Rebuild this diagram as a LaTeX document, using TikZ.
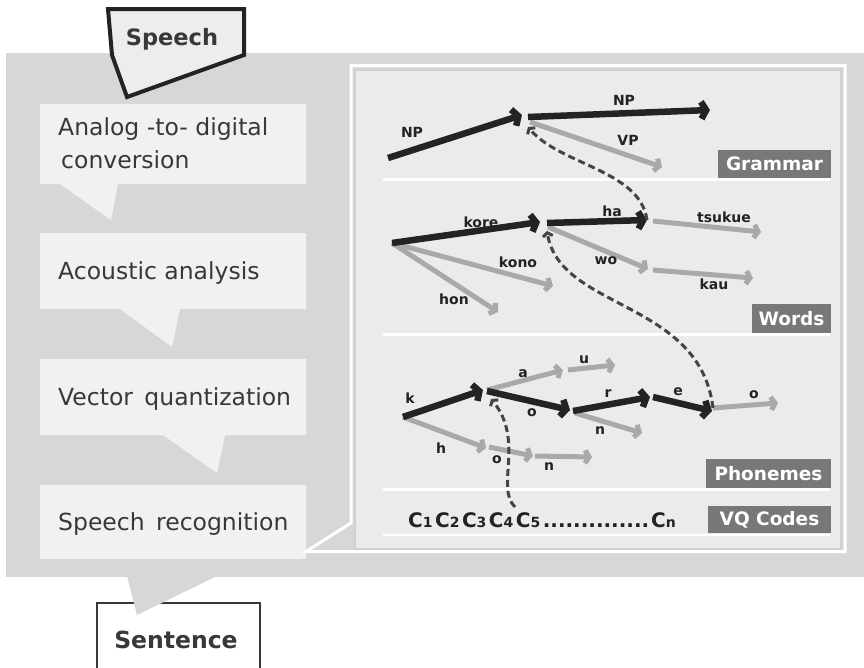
\documentclass[tikz,border=0pt]{standalone}
\usepackage{fontspec}
\setmainfont{DejaVu Sans}
\usetikzlibrary{arrows.meta}

\definecolor{bggray}{HTML}{D6D7D9}
\definecolor{boxfill}{HTML}{F0F1F3}
\definecolor{panelfill}{HTML}{EBEBEB}
\definecolor{panelline}{HTML}{D0D0D0}
\definecolor{levelgray}{HTML}{77787A}
\definecolor{arrowdark}{HTML}{232323}
\definecolor{arrowlight}{HTML}{A9A9A9}
\definecolor{linkgray}{HTML}{444444}
\definecolor{textdark}{HTML}{383838}
\definecolor{labeldark}{HTML}{222222}
\definecolor{speechfill}{HTML}{EDEDED}

% small code index digit, set on the baseline
\newcommand{\smalldigit}[1]{{\fontsize{14}{14}\selectfont #1}\kern2.5pt}

\tikzset{
  stepbox/.style={fill=boxfill, draw=none},
  steptext/.style={anchor=base west, inner sep=0, text=textdark,
    font=\fontsize{23.5}{28}\selectfont},
  darkarrow/.style={line width=6.5pt, draw=arrowdark,
    -{Straight Barb[length=5pt,width=17pt]}},
  lightarrow/.style={line width=5pt, draw=arrowlight,
    -{Straight Barb[length=4pt,width=13pt]}},
  linkarrow/.style={line width=3pt, draw=linkgray, dash pattern=on 7pt off 4pt,
    -{Straight Barb[length=3.5pt,width=10pt]}},
  arclabel/.style={font=\bfseries\fontsize{14}{16}\selectfont, text=labeldark, inner sep=0},
  levellabel/.style={fill=levelgray, text=white, inner sep=0,
    font=\bfseries\fontsize{18.5}{20}\selectfont},
  separator/.style={draw=white, line width=2.6pt},
}

\begin{document}
\begin{tikzpicture}[x=1pt, y=-1pt]
\useasboundingbox (0,0) rectangle (864,667);

% ---- background slab ----
\fill[bggray] (6,53) rectangle (864,577);

% ---- output box and its pointer ----
\draw[draw=textdark, line width=2.5pt, fill=white] (97,603) rectangle (260,680);
\node[anchor=base, inner sep=0, text=textdark, font=\bfseries\fontsize{23.5}{28}\selectfont]
  (sentence) at (176,648) {Sentence};
\fill[bggray] (127,576) -- (217,576) -- (137,615) -- cycle;

% ---- input tag ----
\draw[draw=arrowdark, line width=4pt, fill=speechfill]
  (108,9) -- (244,9) -- (244,55) -- (127,97) -- (112,55) -- cycle;
\node[anchor=base, inner sep=0, text=textdark, font=\bfseries\fontsize{22.5}{28}\selectfont]
  (speech) at (172,45) {Speech};

% ---- processing steps ----
\fill[stepbox] (40,104) -- (306,104) -- (306,184) -- (118,184) -- (111,220) -- (60,184) -- (40,184) -- cycle;
\node[steptext] (adc1) at (58,135) {Analog -to- digital};
\node[steptext] (adc2) at (61,168) {conversion};

\fill[stepbox] (40,233) -- (306,233) -- (306,309) -- (180,309) -- (172,347) -- (120,309) -- (40,309) -- cycle;
\node[steptext] (acoustic) at (58,279) {Acoustic analysis};

\fill[stepbox] (40,359) -- (306,359) -- (306,435) -- (225,435) -- (217,473) -- (163,435) -- (40,435) -- cycle;
\node[steptext] (vq) at (58,405) {Vector\, quantization};

\fill[stepbox] (40,485) rectangle (306,559);
\node[steptext] (recog) at (58,530) {Speech\, recognition};

% ---- recognition detail panel ----
\draw[draw=white, line width=3pt]
  (351,65.5) -- (845,65.5) -- (845,551.5) -- (306,551.5) -- (351,523) -- cycle;
\draw[draw=panelline, line width=2pt, fill=panelfill] (355,70) rectangle (841,549);

\draw[separator] (383,179.5) -- (830,179.5);
\draw[separator] (383,334.5) -- (830,334.5);
\draw[separator] (383,489.5) -- (830,489.5);
\draw[separator] (383,535) -- (830,535);

\node[levellabel, minimum width=113pt, minimum height=28pt] (grammar) at (774.5,164) {Grammar};
\node[levellabel, minimum width=79pt, minimum height=29pt] (words) at (791.5,318.5) {Words};
\node[levellabel, minimum width=125pt, minimum height=29pt] (phonemes) at (768.5,473.5) {Phonemes};
\node[levellabel, minimum width=123pt, minimum height=27pt] (vqcodes) at (769.5,519.5) {VQ Codes};

% ---- grammar level ----
\coordinate (g0) at (388,158);
\coordinate (g1) at (522,115);
\coordinate (g1a) at (528,117);
\coordinate (g2) at (710,110);
\coordinate (g1b) at (530,122);
\coordinate (g3) at (662,167);
\draw[lightarrow] (g1b) -- (g3);
\draw[darkarrow] (g0) -- (g1);
\draw[darkarrow] (g1a) -- (g2);
\node[arclabel] (lnp1) at (412,132) {NP};
\node[arclabel] (lnp2) at (624,100) {NP};
\node[arclabel] (lvp) at (628,140) {VP};

% ---- word level ----
\coordinate (w0) at (392,243);
\coordinate (w1) at (540,222);
\coordinate (w1a) at (547,223);
\coordinate (w2) at (647,220);
\coordinate (w2a) at (653,221);
\coordinate (w3) at (761,232);
\coordinate (w1b) at (548,227);
\coordinate (w4) at (648,269);
\coordinate (w4a) at (653,270);
\coordinate (w5) at (753,278);
\coordinate (w6) at (553,286);
\coordinate (w7) at (498,312);
\draw[lightarrow] (w0) -- (w6);
\draw[lightarrow] (w0) -- (w7);
\draw[lightarrow] (w2a) -- (w3);
\draw[lightarrow] (w1b) -- (w4);
\draw[lightarrow] (w4a) -- (w5);
\draw[darkarrow] (w0) -- (w1);
\draw[darkarrow] (w1a) -- (w2);
\node[arclabel] (lkore) at (481,222) {kore};
\node[arclabel] (lha) at (612,211) {ha};
\node[arclabel] (ltsukue) at (724,217) {tsukue};
\node[arclabel] (lkono) at (518,262) {kono};
\node[arclabel] (lwo) at (606,261) {wo};
\node[arclabel] (lkau) at (714,284) {kau};
\node[arclabel] (lhon) at (454,299) {hon};

% ---- phoneme level ----
\coordinate (p0) at (403,417);
\coordinate (p1) at (483,390);
\coordinate (p1a) at (487,390);
\coordinate (p2) at (563,370);
\coordinate (p2a) at (568,370);
\coordinate (p3) at (615,365);
\coordinate (p1b) at (487,391);
\coordinate (p4) at (570,410);
\coordinate (p4a) at (573,411);
\coordinate (p5) at (650,397);
\coordinate (p4b) at (575,413);
\coordinate (p6) at (642,433);
\coordinate (p5a) at (653,397);
\coordinate (p7) at (712,411);
\coordinate (p7a) at (713,408);
\coordinate (p8) at (778,403);
\coordinate (p9) at (486,448);
\coordinate (p9a) at (489,447);
\coordinate (p10) at (533,456);
\coordinate (p10a) at (535,456);
\coordinate (p11) at (592,457);
\draw[lightarrow] (p1a) -- (p2);
\draw[lightarrow] (p2a) -- (p3);
\draw[lightarrow] (p4b) -- (p6);
\draw[lightarrow] (p7a) -- (p8);
\draw[lightarrow] (p0) -- (p9);
\draw[lightarrow] (p9a) -- (p10);
\draw[lightarrow] (p10a) -- (p11);
\draw[darkarrow] (p0) -- (p1);
\draw[darkarrow] (p1b) -- (p4);
\draw[darkarrow] (p4a) -- (p5);
\draw[darkarrow] (p5a) -- (p7);
\node[arclabel] (lk) at (410,398) {k};
\node[arclabel] (la) at (523,374) {a};
\node[arclabel] (lu) at (584,360) {u};
\node[arclabel] (lo1) at (532,413) {o};
\node[arclabel] (lr) at (608,394) {r};
\node[arclabel] (ln1) at (600,431) {n};
\node[arclabel] (le) at (678,392) {e};
\node[arclabel] (lo2) at (754,395) {o};
\node[arclabel] (lh) at (441,448) {h};
\node[arclabel] (lo3) at (497,460) {o};
\node[arclabel] (ln2) at (549,467) {n};

% ---- VQ code sequence ----
\node[anchor=base west, inner sep=0, text=labeldark, font=\bfseries\fontsize{20}{24}\selectfont]
  (codes) at (408,527)
  {C\smalldigit{1}C\smalldigit{2}C\smalldigit{3}C\smalldigit{4}C\smalldigit{5}..............\kern2ptC{\fontsize{14}{14}\selectfont n}};
\coordinate (c4) at (515,507);

% ---- links between levels (tips sit just below each junction) ----
\coordinate (t1) at (491,399);
\coordinate (t2) at (547,231);
\coordinate (t3) at (528,127);
\draw[linkarrow] (c4) .. controls (495,488) and (525,440) .. (t1);
\draw[linkarrow] (p7a) .. controls (700,300) and (560,310) .. (t2);
\draw[linkarrow] (w2) .. controls (640,170) and (560,165) .. (t3);
\end{tikzpicture}
\end{document}
